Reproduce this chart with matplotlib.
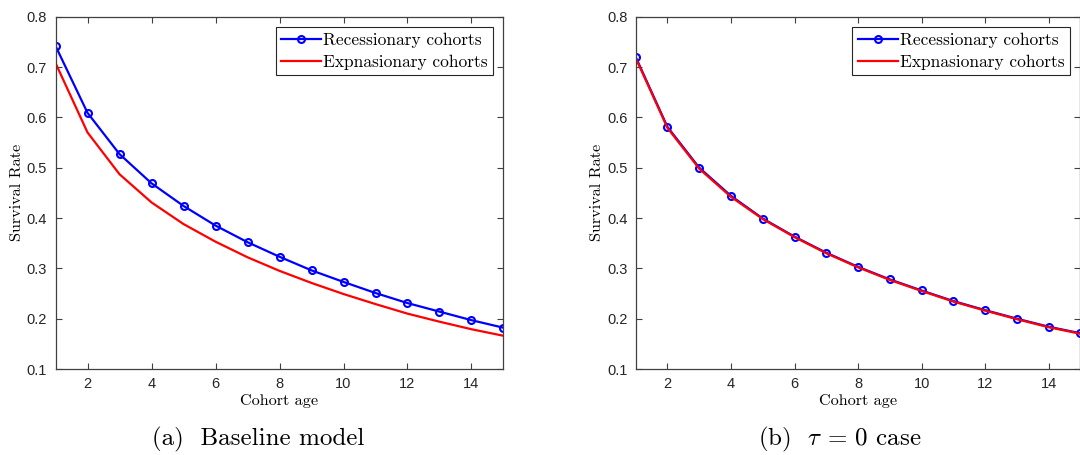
import matplotlib
matplotlib.use('Agg')
import matplotlib.pyplot as plt

plt.rcParams['mathtext.fontset'] = 'cm'
plt.rcParams['axes.unicode_minus'] = False

ages = list(range(1, 16))

# baseline model
base_recession = [0.742, 0.609, 0.527, 0.469, 0.424, 0.385, 0.352, 0.323,
                  0.296, 0.273, 0.251, 0.231, 0.214, 0.197, 0.182]
base_expansion = [0.708, 0.570, 0.487, 0.431, 0.388, 0.353, 0.322, 0.295,
                  0.271, 0.249, 0.229, 0.210, 0.194, 0.179, 0.166]

# tau = 0 case
tau0_recession = [0.720, 0.581, 0.500, 0.444, 0.399, 0.363, 0.331, 0.303,
                  0.278, 0.256, 0.235, 0.217, 0.200, 0.184, 0.171]
tau0_expansion = [0.718, 0.579, 0.498, 0.442, 0.398, 0.362, 0.330, 0.302,
                  0.277, 0.255, 0.234, 0.216, 0.199, 0.183, 0.170]

xticks = [2, 4, 6, 8, 10, 12, 14]
yticks = [0.1, 0.2, 0.3, 0.4, 0.5, 0.6, 0.7, 0.8]

serif = 'cmr10'
tick_font = 'Liberation Sans'
axis_col = '0.25'


def draw_panel(ax, rec, exp, caption, cap_x):
    ax.plot(ages, rec, color='blue', lw=1.6, marker='o', ms=5,
            mfc='none', mec='blue', mew=1.5, label='Recessionary cohorts')
    ax.plot(ages, exp, color='red', lw=1.6, label='Expnasionary cohorts')
    ax.set_xlim(1, 15)
    ax.set_ylim(0.1, 0.8)
    ax.set_xticks(xticks)
    ax.set_yticks(yticks)
    ax.set_yticklabels([f'{v:.1f}' for v in yticks])
    ax.tick_params(direction='in', length=4, width=0.8, top=True, right=True,
                   labelsize=10.5, colors=axis_col, labelcolor='#262626', pad=6)
    for lab in ax.get_xticklabels() + ax.get_yticklabels():
        lab.set_fontfamily(tick_font)
    for s in ax.spines.values():
        s.set_color(axis_col)
        s.set_linewidth(0.9)
    ax.set_xlabel('Cohort age', fontfamily=serif, fontsize=11.7, labelpad=2)
    ax.set_ylabel('Survival Rate', fontfamily=serif, fontsize=11.7, labelpad=2)
    leg = ax.legend(loc='upper right', prop={'family': serif, 'size': 12.5},
                    fancybox=False, edgecolor='0.15', framealpha=1,
                    handlelength=2.3, handletextpad=0.15, borderpad=0.3,
                    labelspacing=0.4, borderaxespad=0.6)
    leg.get_frame().set_linewidth(0.8)
    # subfigure caption, centred under the whole subfigure
    ax.text(cap_x, -0.217, caption, transform=ax.transAxes, ha='center',
            va='baseline', fontfamily=serif, fontsize=18)


fig = plt.figure(figsize=(10.8, 4.55), dpi=100)
ax1 = fig.add_axes([0.0514, 0.189, 0.4148, 0.7743])
ax2 = fig.add_axes([0.5886, 0.189, 0.4118, 0.7743])

draw_panel(ax1, base_recession, base_expansion, '(a)  Baseline model', 0.452)
draw_panel(ax2, tau0_recession, tau0_expansion,
           r'(b)  $\tau$ = $\mathit{0}$ case', 0.46)

fig.savefig('out.png', dpi=100, facecolor='white')
